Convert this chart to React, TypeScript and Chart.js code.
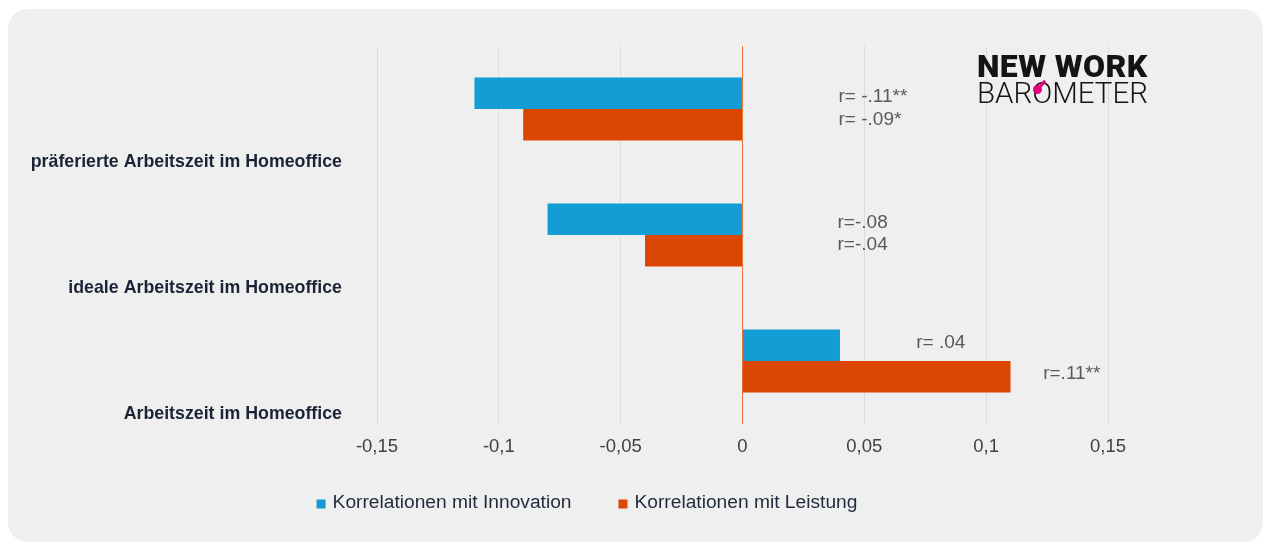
import React, { useEffect, useRef } from "react";
import { Chart, registerables } from "chart.js";

Chart.register(...registerables);

const categories = [
  "präferierte Arbeitszeit im Homeoffice",
  "ideale Arbeitszeit im Homeoffice",
  "Arbeitszeit im Homeoffice",
];
const seriesNames = ["Korrelationen mit Innovation", "Korrelationen mit Leistung"];
const innovationValues = [-0.11, -0.08, 0.04];
const leistungValues = [-0.09, -0.04, 0.11];
const innovationLabels = ["r= -.11**", "r=-.08", "r= .04"];
const leistungLabels = ["r= -.09*", "r=-.04", "r=.11**"];
const innovationLabelAt = [0.0394, 0.039, 0.0713];
const leistungLabelAt = [0.0394, 0.039, 0.1234];
const xTickValues = [-0.15, -0.1, -0.05, 0, 0.05, 0.1, 0.15];
const xTickLabels = ["-0,15", "-0,1", "-0,05", "0", "0,05", "0,1", "0,15"];

const FONT = '"Liberation Sans", Arial, Helvetica, sans-serif';
const BLUE = "#149cd5";
const ORANGE = "#db4602";

// vertical nudges of the r-labels relative to their bar centre (px)
const innovationShift = [4, 4, -2];
const leistungShift = [-5, -6, -3];

const rLabelPlugin = {
  id: "rLabels",
  afterDatasetsDraw(chart: any) {
    const ctx = chart.ctx;
    const xs = chart.scales.x;
    const sets: [string[], number[], number[]][] = [
      [innovationLabels, innovationLabelAt, innovationShift],
      [leistungLabels, leistungLabelAt, leistungShift],
    ];
    ctx.save();
    ctx.font = `19px ${FONT}`;
    ctx.fillStyle = "#595959";
    ctx.textAlign = "left";
    ctx.textBaseline = "middle";
    sets.forEach(([texts, at, shift], i) => {
      const meta = chart.getDatasetMeta(i);
      meta.data.forEach((bar: any, j: number) => {
        ctx.fillText(texts[j], xs.getPixelForValue(at[j]), bar.y + shift[j]);
      });
    });
    ctx.restore();
  },
};

// legend drawn under the plot, centred like the original
const legendPlugin = {
  id: "bottomLegend",
  afterDraw(chart: any) {
    const ctx = chart.ctx;
    const box = 9;
    const gapText = 7;
    const gapItem = 47;
    const centerX = 587;
    const y = 503;
    ctx.save();
    ctx.font = `19.2px ${FONT}`;
    ctx.textAlign = "left";
    ctx.textBaseline = "middle";
    const items = chart.data.datasets.map((ds: any) => ({
      text: ds.label as string,
      color: ds.backgroundColor as string,
    }));
    const widths = items.map((it: any) => box + gapText + ctx.measureText(it.text).width);
    const total =
      widths.reduce((a: number, b: number) => a + b, 0) + gapItem * (items.length - 1);
    let x = centerX - total / 2;
    items.forEach((it: any, i: number) => {
      ctx.fillStyle = it.color;
      ctx.fillRect(x, y - box / 2 + 1, box, box);
      ctx.fillStyle = "#1f2a3c";
      ctx.fillText(it.text, x + box + gapText, y);
      x += widths[i] + gapItem;
    });
    ctx.restore();
  },
};

export default function App() {
  const ref = useRef<HTMLCanvasElement | null>(null);

  useEffect(() => {
    if (!ref.current) return;
    const chart = new Chart(ref.current, {
      type: "bar",
      data: {
        labels: categories,
        datasets: [
          {
            label: seriesNames[0],
            data: innovationValues,
            backgroundColor: BLUE,
            borderWidth: 0,
            barPercentage: 1,
            categoryPercentage: 0.5,
          },
          {
            label: seriesNames[1],
            data: leistungValues,
            backgroundColor: ORANGE,
            borderWidth: 0,
            barPercentage: 1,
            categoryPercentage: 0.5,
          },
        ],
      },
      options: {
        indexAxis: "y",
        responsive: false,
        maintainAspectRatio: false,
        animation: false,
        events: [],
        layout: { padding: { left: 20, right: 158, top: 46, bottom: 78 } },
        plugins: {
          tooltip: { enabled: false },
          legend: { display: false },
        },
        scales: {
          x: {
            type: "linear",
            min: -0.15,
            max: 0.15,
            afterBuildTicks: (s: any) => {
              s.ticks = xTickValues.map((v) => ({ value: v }));
            },
            afterFit: (s: any) => {
              s.height = 40;
            },
            ticks: {
              autoSkip: false,
              maxRotation: 0,
              padding: 12,
              color: "#404040",
              font: { size: 18.5, family: FONT },
              callback: (_v: any, i: number) => xTickLabels[i],
            },
            grid: {
              drawTicks: false,
              lineWidth: 1,
              color: (c: any) => (c.tick && c.tick.value === 0 ? "#e8763a" : "#dcdcdc"),
            },
            border: { display: false },
          },
          y: {
            type: "category",
            offset: true,
            afterFit: (s: any) => {
              s.width = 357;
            },
            ticks: {
              padding: 35,
              labelOffset: 53.5,
              color: "#1b2437",
              font: { size: 17.8, weight: "bold", family: FONT },
            },
            grid: { display: false, drawTicks: false },
            border: { display: false },
          },
        },
      },
      plugins: [rLabelPlugin, legendPlugin],
    });
    return () => chart.destroy();
  }, []);

  return (
    <div
      style={{
        position: "fixed",
        left: 0,
        top: 0,
        width: 1266,
        height: 542,
        background: "#ffffff",
        overflow: "hidden",
      }}
    >
      <div
        style={{
          position: "absolute",
          left: 8,
          top: 9,
          width: 1255,
          height: 533,
          borderRadius: 20,
          background: "#efefef",
        }}
      />
      <canvas
        ref={ref}
        width={1266}
        height={542}
        style={{ position: "absolute", left: 0, top: 0, width: 1266, height: 542 }}
      />
      <div
        style={{
          position: "absolute",
          left: 977,
          top: 50,
          fontFamily: "Roboto, 'Open Sans', sans-serif",
          fontWeight: 900,
          fontSize: 32,
          lineHeight: 1,
          color: "#141414",
          whiteSpace: "nowrap",
          letterSpacing: 0.4,
        }}
      >
        NEW WORK
      </div>
      <div
        style={{
          position: "absolute",
          left: 977,
          top: 79,
          fontFamily: "Roboto, 'Open Sans', sans-serif",
          fontWeight: 300,
          fontSize: 29.5,
          lineHeight: 1,
          color: "#141414",
          whiteSpace: "nowrap",
        }}
      >
        BAROMETER
      </div>
      <div
        style={{
          position: "absolute",
          left: 1033,
          top: 85,
          width: 9,
          height: 9,
          borderRadius: 5,
          background: "#e5007d",
        }}
      />
      <div
        style={{
          position: "absolute",
          left: 1038,
          top: 88,
          width: 11,
          height: 2.5,
          background: "#e5007d",
          transform: "rotate(-52deg)",
          transformOrigin: "0 50%",
        }}
      />
    </div>
  );
}
